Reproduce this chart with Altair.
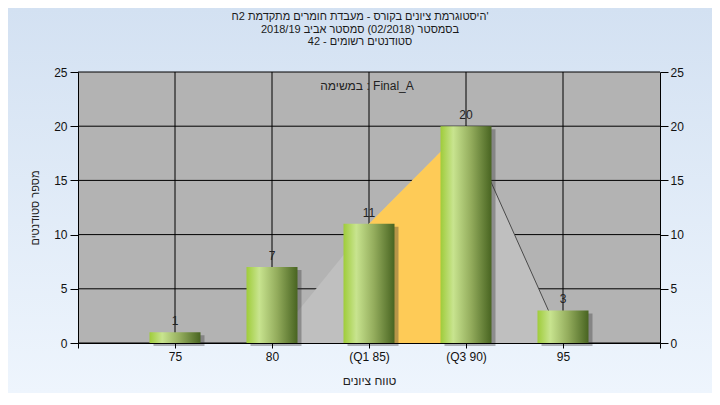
import altair as alt
import pandas as pd

# ---- data ----
grades = [75, 80, 85, 90, 95]
counts = [1, 7, 11, 20, 3]
grade_labels = ["75", "80", "(Q1 85)", "(Q3 90)", "95"]
curve_x = [80, 85, 90, 95]
curve_y = [0, 11, 20, 0]
iqr_x = [85, 90]
iqr_y = [11, 20]
edge_x = [90, 95]
edge_y = [20, 0]
y_ticks = [0, 5, 10, 15, 20, 25]
x_ticks = [70, 75, 80, 85, 90, 95, 100]

title_lines = [
    "היסטוגרמת ציונים בקורס - מעבדת חומרים מתקדמת 2ח'",
    "בסמסטר  (02/2018)  סמסטר אביב 2018/19",
    "סטודנטים רשומים - 42",
]
note = "במשימה : Final_A"
x_title = "טווח ציונים"
y_title = "מספר סטודנטים"

W, H = 582, 271
FONT = "Liberation Sans"

bars_df = pd.DataFrame({"g": grades, "c": counts})
curve_df = pd.DataFrame({"g": curve_x, "c": curve_y})
iqr_df = pd.DataFrame({"g": iqr_x, "c": iqr_y})
edge_df = pd.DataFrame({"g": edge_x, "c": edge_y})
yt_df = pd.DataFrame({"v": y_ticks})
xt_df = pd.DataFrame({"g": grades})
note_df = pd.DataFrame({"t": [note]})
one_df = pd.DataFrame({"a": [0]})

xscale = alt.Scale(domain=[70, 100], nice=False, zero=False, padding=0)
yscale = alt.Scale(domain=[0, 25], nice=False, padding=0)

label_map = " : ".join(
    f"datum.value == {g} ? '{l}'" for g, l in zip(grades, grade_labels)
) + " : ''"

X_AXIS = alt.Axis(
    values=x_ticks, labelExpr=label_map, grid=False,
    domainColor="black", tickColor="black", tickSize=5,
    labelFont=FONT, labelFontSize=12, labelColor="#111111",
    labelPadding=3, title=x_title, titleFont=FONT, titleFontSize=12,
    titleFontWeight="normal", titleColor="#222222", titleY=37,
    titleBaseline="middle", zindex=1,
)


def xenc():
    return alt.X("g:Q", scale=xscale, axis=X_AXIS)


bg = alt.Chart(one_df).mark_rect(
    color=alt.Gradient(
        gradient="linear", x1=0, y1=0, x2=0, y2=1,
        stops=[alt.GradientStop(color="#d3e1f2", offset=0),
               alt.GradientStop(color="#eef5fd", offset=1)],
    )
).encode(x=alt.value(-70), x2=alt.value(W + 52), y=alt.value(-64), y2=alt.value(H + 50))

plotbg = alt.Chart(one_df).mark_rect(color="#b3b3b3").encode(
    x=alt.value(0), x2=alt.value(W), y=alt.value(0), y2=alt.value(H)
)

hgrid = alt.Chart(yt_df).mark_rule(color="black", strokeWidth=1).encode(
    y=alt.Y("v:Q", scale=yscale, axis=None)
)
vgrid = alt.Chart(xt_df).mark_rule(color="black", strokeWidth=1).encode(
    x=xenc()
)

gray_area = alt.Chart(curve_df).mark_area(color="#bfbfbf", opacity=1).encode(
    x=xenc(),
    y=alt.Y("c:Q", scale=yscale, axis=None),
)
orange_area = alt.Chart(iqr_df).mark_area(color="#fecb57", opacity=1).encode(
    x=xenc(),
    y=alt.Y("c:Q", scale=yscale, axis=None),
)
edge_line = alt.Chart(edge_df).mark_line(color="#4a4a4a", strokeWidth=1).encode(
    x=xenc(),
    y=alt.Y("c:Q", scale=yscale, axis=None),
)

shadow = alt.Chart(bars_df).mark_bar(
    size=51, color="#303030", opacity=0.35, xOffset=4, yOffset=3
).encode(
    x=xenc(),
    y=alt.Y("c:Q", scale=yscale, axis=None),
)

bar_grad = alt.Gradient(
    gradient="linear", x1=0, y1=0, x2=1, y2=0,
    stops=[
        alt.GradientStop(color="#9fcc3a", offset=0),
        alt.GradientStop(color="#c8e48f", offset=0.25),
        alt.GradientStop(color="#93ac5c", offset=0.6),
        alt.GradientStop(color="#486421", offset=1),
    ],
)

bars = alt.Chart(bars_df).mark_bar(size=51, color=bar_grad).encode(
    x=xenc(),
    y=alt.Y(
        "c:Q", scale=yscale,
        axis=alt.Axis(
            values=y_ticks, grid=False, orient="left",
            domainColor="black", tickColor="black", tickSize=8,
            labelFont=FONT, labelFontSize=12, labelColor="#111111",
            labelPadding=3, title=y_title, titleFont=FONT, titleFontSize=11,
            titleFontWeight="normal", titleColor="#222222", titleX=-43,
            titleBaseline="middle", titleAngle=-90, zindex=1,
        ),
    ),
)

labels = alt.Chart(bars_df).mark_text(
    baseline="bottom", dy=-4, font=FONT, fontSize=12, color="#222222"
).encode(
    x=xenc(),
    y=alt.Y(
        "c:Q", scale=yscale,
        axis=alt.Axis(
            values=y_ticks, grid=False, orient="right",
            domainColor="black", tickColor="black", tickSize=8,
            labelFont=FONT, labelFontSize=12, labelColor="#111111",
            labelPadding=2, title=None, zindex=1,
        ),
    ),
    text="c:Q",
)

note_text = alt.Chart(note_df).mark_text(
    font=FONT, fontSize=12, color="#222222", baseline="middle", align="center"
).encode(x=alt.value(W / 2 - 2), y=alt.value(14), text="t:N")

# chart title (three lines), centred on the whole 720px picture
title_layers = []
for k, line in enumerate(title_lines):
    title_layers.append(
        alt.Chart(pd.DataFrame({"t": [line]})).mark_text(
            font=FONT, fontSize=11, color="#1a1a1a", baseline="middle", align="center"
        ).encode(x=alt.value(282), y=alt.value(-55 + 12.5 * k), text="t:N")
    )

chart = alt.layer(
    bg, plotbg, hgrid, vgrid, gray_area, orange_area, edge_line,
    shadow, bars, labels, note_text, *title_layers,
).resolve_axis(y="independent").properties(
    width=W, height=H,
    autosize=alt.AutoSizeParams(type="none"),
    padding={"left": 70, "top": 64, "right": 52, "bottom": 50},
).configure_view(stroke=None)

chart.save("out.html", embed_options={"renderer": "svg", "actions": False})
